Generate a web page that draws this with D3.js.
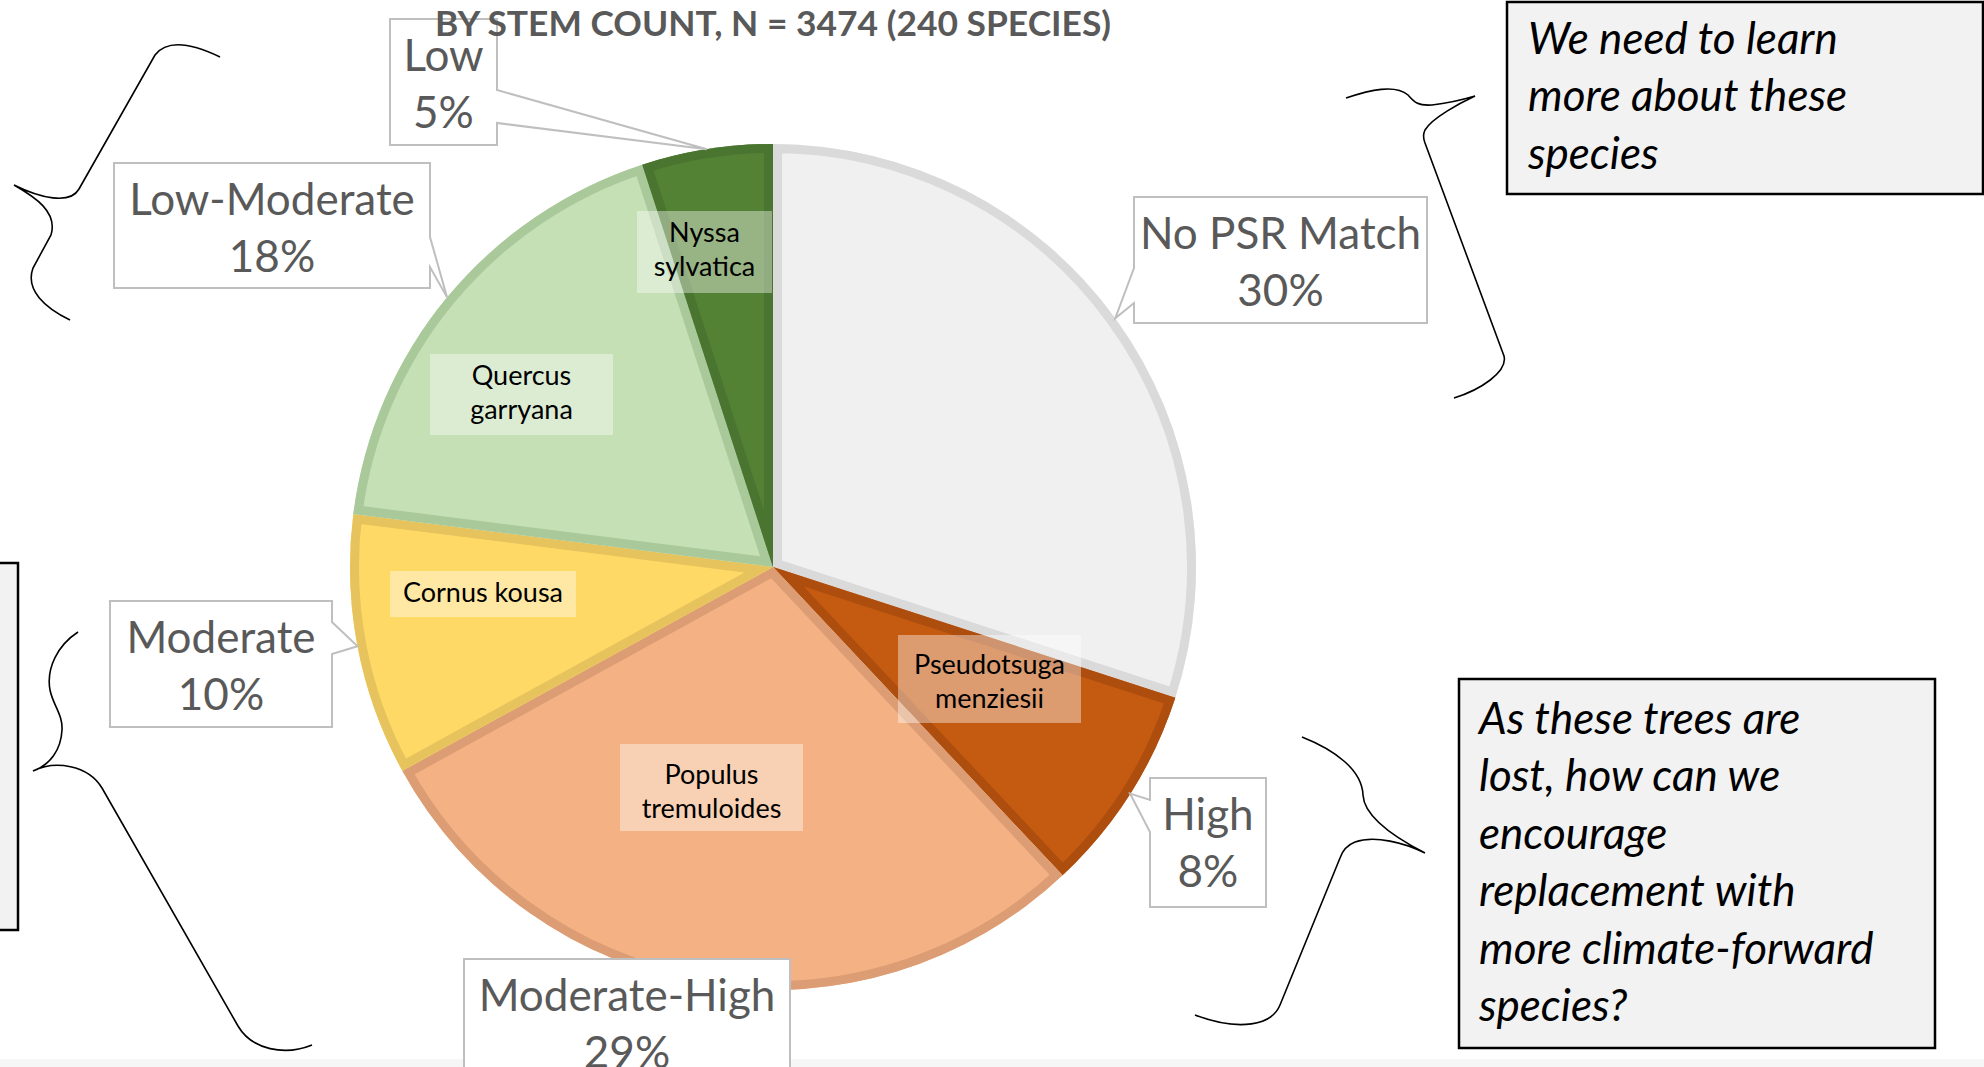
<!DOCTYPE html>
<html>
<head>
<meta charset="utf-8">
<script src="https://cdnjs.cloudflare.com/ajax/libs/d3/7.8.5/d3.min.js"></script>
<style>
  body { margin: 0; background: #fff; }
  svg { display: block; }
</style>
</head>
<body>
<script>
// values (share of stems, clockwise from 12 o'clock)
var categories = ["No PSR Match", "High", "Moderate-High", "Moderate", "Low-Moderate", "Low"];
var percents = [30, 8, 29, 10, 18, 5];
var species = ["", "Pseudotsuga menziesii", "Populus tremuloides", "Cornus kousa", "Quercus garryana", "Nyssa sylvatica"];
var title = "BY STEM COUNT, N = 3474 (240 SPECIES)";
var topNote = ["We need to learn", "more about these", "species"];
var bottomNote = ["As these trees are", "lost, how can we", "encourage", "replacement with", "more climate-forward", "species?"];

var fills = ["#f0f0f0", "#c55a11", "#f4b183", "#ffd966", "#c5e0b4", "#548235"];
var edges = ["#dadada", "#ad4e0f", "#dc9c74", "#e6c35c", "#aac99b", "#4a7530"];

var svgWidth = 1984;
var svgHeight = 1067;
var cx = 773, cy = 567, radius = 423;
var calloutFont = "Lato, 'Open Sans', sans-serif";

// callout boxes (layout only)
var callouts = [
  { x: 1134, y: 197, w: 293, h: 126, side: "left", n0: 268, n1: 303 },
  { x: 1150, y: 778, w: 116, h: 129, side: "left", n0: 800, n1: 832 },
  { x: 464, y: 959, w: 326, h: 135, side: "none" },
  { x: 110, y: 601, w: 222, h: 126, side: "right", n0: 622, n1: 654 },
  { x: 114, y: 163, w: 316, h: 125, side: "right", n0: 237, n1: 267 },
  { x: 390, y: 19, w: 107, h: 126, side: "right", n0: 90, n1: 123 }
];

// species label boxes (layout only): box x,y,w,h and first baseline
var speciesBoxes = [
  null,
  { x: 898, y: 635, w: 183, h: 88, b: 674 },
  { x: 620, y: 744, w: 183, h: 87, b: 784 },
  { x: 390, y: 571, w: 186, h: 46, b: 602 },
  { x: 430, y: 354, w: 183, h: 81, b: 385 },
  { x: 637, y: 211, w: 135, h: 82, b: 242 }
];

var svg = d3.select("body")
  .append("svg")
  .attr("width", svgWidth)
  .attr("height", svgHeight);

var defs = svg.append("defs");

// faint band at the bottom of the slide
svg.append("rect")
  .attr("x", 0).attr("y", 1059)
  .attr("width", svgWidth).attr("height", 8)
  .attr("fill", "#f6f6f6");

var pie = d3.pie().sort(null).value(d => d);
var arcs = pie(percents);
var arc = d3.arc().innerRadius(0).outerRadius(radius);

var pieGroup = svg.append("g")
  .attr("transform", `translate(${cx}, ${cy})`);

arcs.forEach(function(a, i) {
  defs.append("clipPath")
    .attr("id", "slice" + i)
    .append("path")
    .attr("d", arc(a));

  pieGroup.append("path")
    .attr("d", arc(a))
    .attr("fill", fills[i]);

  // inner edge like the Excel outline
  pieGroup.append("path")
    .attr("d", arc(a))
    .attr("fill", "none")
    .attr("stroke", edges[i])
    .attr("stroke-width", 18)
    .attr("stroke-linejoin", "round")
    .attr("clip-path", `url(#slice${i})`);
});

// species labels inside the slices
arcs.forEach(function(a, i) {
  var box = speciesBoxes[i];
  if (!box) return;
  svg.append("rect")
    .attr("x", box.x).attr("y", box.y)
    .attr("width", box.w).attr("height", box.h)
    .attr("fill", "#ffffff")
    .attr("fill-opacity", 0.4);

  var words = species[i].split(" ");
  var lines = i === 3 ? [species[i]] : words;
  var t = svg.append("text")
    .attr("text-anchor", "middle")
    .attr("font-family", calloutFont)
    .attr("font-size", 27)
    .attr("fill", "#000");
  lines.forEach(function(l, k) {
    t.append("tspan")
      .attr("x", box.x + box.w / 2)
      .attr("y", box.b + k * 34)
      .text(l);
  });
});

// callouts with pointers to the slice edge
function tipPoint(a) {
  var m = (a.startAngle + a.endAngle) / 2;
  return [cx + radius * Math.sin(m), cy - radius * Math.cos(m)];
}

arcs.forEach(function(a, i) {
  var c = callouts[i];
  var tip = tipPoint(a);
  var x0 = c.x, x1 = c.x + c.w, y0 = c.y, y1 = c.y + c.h;
  var d;
  if (c.side === "right") {
    d = `M${x0},${y0} L${x1},${y0} L${x1},${c.n0} L${tip[0]},${tip[1]} L${x1},${c.n1} L${x1},${y1} L${x0},${y1} Z`;
  } else if (c.side === "left") {
    d = `M${x0},${y0} L${x1},${y0} L${x1},${y1} L${x0},${y1} L${x0},${c.n1} L${tip[0]},${tip[1]} L${x0},${c.n0} Z`;
  } else {
    d = `M${x0},${y0} L${x1},${y0} L${x1},${y1} L${x0},${y1} Z`;
  }
  svg.append("path")
    .attr("d", d)
    .attr("fill", "#fff")
    .attr("stroke", "#bfbfbf")
    .attr("stroke-width", 2);

  var t = svg.append("text")
    .attr("text-anchor", "middle")
    .attr("font-family", calloutFont)
    .attr("font-size", 44)
    .attr("fill", "#595959");
  t.append("tspan")
    .attr("x", x0 + c.w / 2)
    .attr("y", y0 + 52)
    .text(categories[i]);
  t.append("tspan")
    .attr("x", x0 + c.w / 2)
    .attr("y", y0 + 109)
    .text(percents[i] + "%");
});

// title
svg.append("text")
  .attr("x", cx)
  .attr("y", 36)
  .attr("text-anchor", "middle")
  .attr("font-family", calloutFont)
  .attr("font-weight", "bold")
  .attr("font-size", 35)
  .attr("textLength", 676)
  .attr("lengthAdjust", "spacingAndGlyphs")
  .attr("fill", "#595959")
  .text(title);

// note boxes
function noteBox(x, y, w, h, lines, tx, ty) {
  svg.append("rect")
    .attr("x", x).attr("y", y)
    .attr("width", w).attr("height", h)
    .attr("fill", "#f2f2f2")
    .attr("stroke", "#000")
    .attr("stroke-width", 2.5);
  var t = svg.append("text")
    .attr("font-family", calloutFont)
    .attr("font-style", "italic")
    .attr("font-size", 44)
    .attr("fill", "#000");
  lines.forEach(function(l, k) {
    t.append("tspan").attr("x", tx).attr("y", ty + k * 57.4).text(l);
  });
}
noteBox(1507, 2, 476, 192, topNote, 1528, 54);
noteBox(1459, 679, 476, 369, bottomNote, 1479, 734);
noteBox(-10, 563, 28, 367, [], 0, 0);

// curly braces
var braces = [
  "M220,57 C195,45 168,38 155,55 L79,189 C70,205 40,198 14,185 C35,197 58,212 51,235 L33,268 C25,290 45,308 70,320",
  "M1346,98 C1370,90 1395,84 1408,95 C1414,102 1418,106 1432,105 C1450,103 1465,99 1475,96 C1460,103 1432,118 1425,130 C1422,136 1424,140 1425,143 L1504,356 C1508,372 1480,390 1454,398",
  "M78,632 C58,645 46,668 50,690 C53,705 63,715 62,730 C61,750 50,765 33,771 C55,760 88,765 102,788 L238,1026 C252,1050 285,1056 312,1045",
  "M1302,737 C1335,750 1362,770 1363,795 C1364,815 1390,835 1425,853 C1405,843 1375,835 1355,842 C1345,846 1342,852 1340,858 L1280,1005 C1272,1025 1240,1032 1195,1015"
];
svg.selectAll(".brace")
  .data(braces)
  .enter()
  .append("path")
  .attr("class", "brace")
  .attr("d", d => d)
  .attr("fill", "none")
  .attr("stroke", "#000")
  .attr("stroke-width", 1.6);
</script>
</body>
</html>
